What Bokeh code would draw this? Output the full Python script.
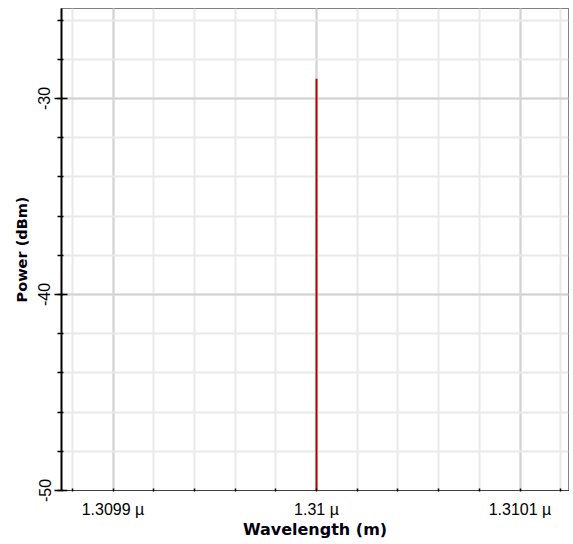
from bokeh.plotting import figure
from bokeh.models import FixedTicker, Range1d
from bokeh.embed import file_html
from bokeh.resources import INLINE

# data (wavelength in micrometres, power in dBm)
wavelength_um = [1.31, 1.31]
power_dbm = [-100.0, -29.0]

x_major_ticks = [1.3099, 1.31, 1.3101]
x_tick_labels = ["1.3099 \u00b5", "1.31 \u00b5", "1.3101 \u00b5"]
x_minor_ticks = [1.30988 + 0.00002 * i for i in range(13)]
y_major_ticks = [-50, -40, -30]
y_tick_labels = ["-50", "-40", "-30"]
y_minor_ticks = list(range(-50, -24, 2))

FONT = "Liberation Sans"
LABEL_FONT = "DejaVu Sans"

p = figure(width=573, height=544, output_backend="svg", toolbar_location=None,
           x_range=Range1d(1.30987469, 1.31012383), y_range=Range1d(-50, -25.41),
           min_border_left=61, min_border_right=5, min_border_top=8, min_border_bottom=54)
p.background_fill_color = "white"
p.border_fill_color = "white"
p.outline_line_color = "black"
p.outline_line_dash = "1 1"
p.outline_line_width = 1

p.line(wavelength_um, power_dbm, line_color="#b80000", line_width=2)

xt = FixedTicker(ticks=x_major_ticks, minor_ticks=x_minor_ticks)
yt = FixedTicker(ticks=y_major_ticks, minor_ticks=y_minor_ticks)
p.xaxis.ticker = xt
p.yaxis.ticker = yt
p.xgrid.ticker = xt
p.ygrid.ticker = yt

for g in (p.xgrid, p.ygrid):
    g.grid_line_color = "#d2d2d2"
    g.grid_line_width = 2
    g.minor_grid_line_color = "#e9e9e9"
    g.minor_grid_line_width = 2

p.xaxis.major_label_overrides = {t: l for t, l in zip(x_major_ticks, x_tick_labels)}
p.yaxis.major_label_overrides = {t: l for t, l in zip(y_major_ticks, y_tick_labels)}

# left axis
ya = p.yaxis[0]
ya.axis_line_color = "black"
ya.axis_line_width = 2
ya.major_tick_in = 6
ya.major_tick_out = 7
ya.major_tick_line_width = 1.5
ya.minor_tick_in = 2
ya.minor_tick_out = 4
ya.minor_tick_line_width = 1.5
ya.major_label_orientation = "vertical"
ya.major_label_standoff = 4
ya.major_label_text_font = FONT
ya.major_label_text_font_size = "16px"
ya.major_label_text_color = "black"
ya.axis_label = "Power (dBm)"
ya.axis_label_text_font = LABEL_FONT
ya.axis_label_text_font_size = "14.5px"
ya.axis_label_text_font_style = "bold"
ya.axis_label_text_color = "#000010"
ya.axis_label_standoff = 6

# bottom axis
xa = p.xaxis[0]
xa.axis_line_color = "black"
xa.axis_line_dash = "1 1"
xa.axis_line_width = 1
xa.major_tick_in = 0
xa.major_tick_out = 0
xa.minor_tick_in = 2
xa.minor_tick_out = 1
xa.minor_tick_line_width = 1.5
xa.major_label_standoff = 9
xa.major_label_text_font = FONT
xa.major_label_text_font_size = "16px"
xa.major_label_text_color = "black"
xa.axis_label = "Wavelength (m)"
xa.axis_label_text_font = LABEL_FONT
xa.axis_label_text_font_size = "16px"
xa.axis_label_text_font_style = "bold"
xa.axis_label_text_color = "#000010"
xa.axis_label_standoff = -1

open("out.html", "w").write(file_html(p, INLINE))
